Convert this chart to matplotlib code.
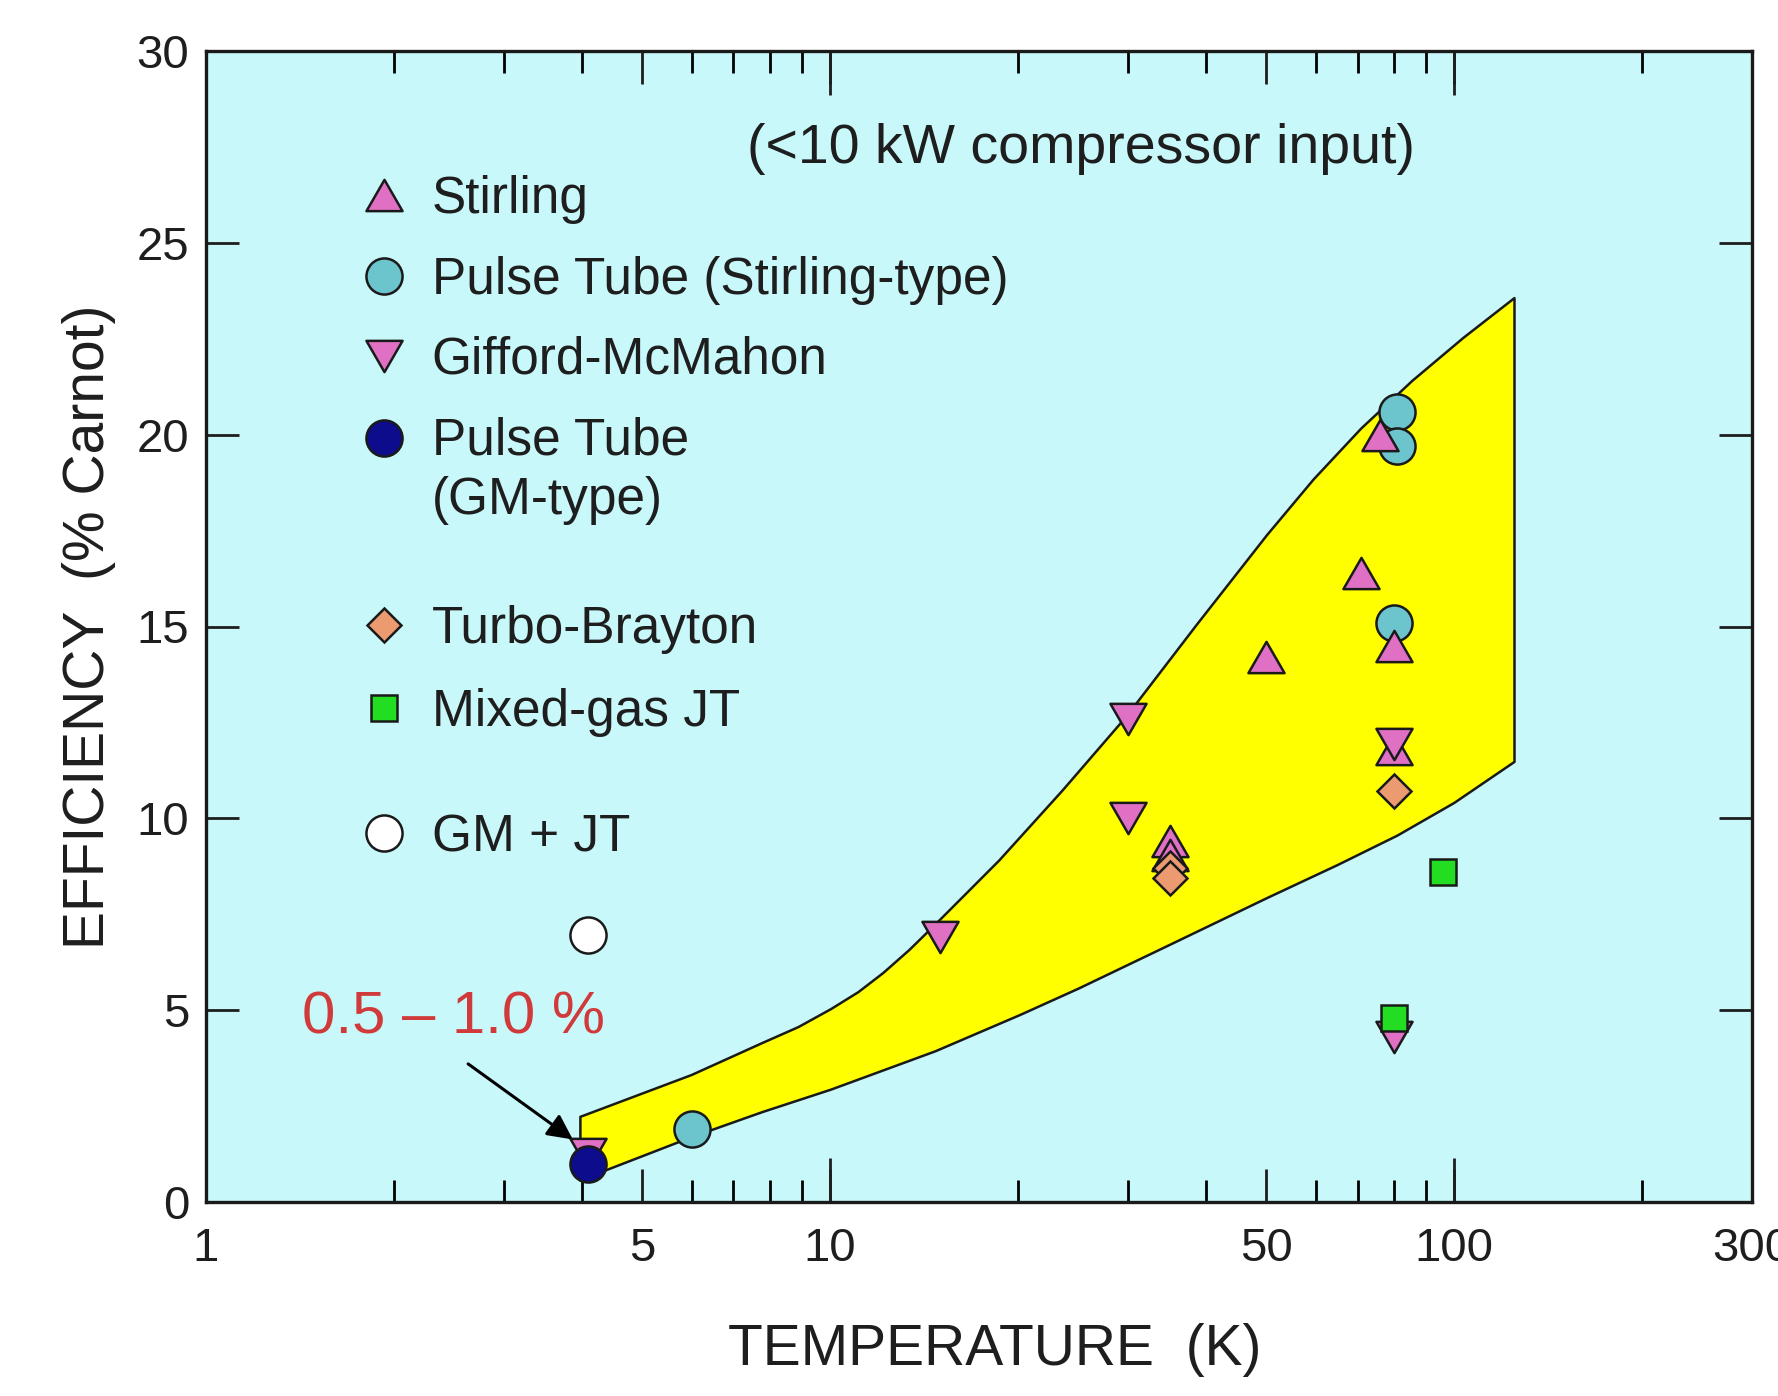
import numpy as np
import matplotlib
matplotlib.use('Agg')
import matplotlib.pyplot as plt
from matplotlib.lines import Line2D
from matplotlib.path import Path
from matplotlib.legend_handler import HandlerLine2D
from matplotlib.ticker import FixedLocator, FixedFormatter, NullFormatter, NullLocator

plt.rcParams['font.family'] = ['Liberation Sans', 'DejaVu Sans']

# ---------------- data ----------------
stirling_T = [76, 71, 50, 80, 80, 35, 35]
stirling_E = [20.0, 16.4, 14.2, 14.5, 11.8, 9.4, 9.05]

gm_T = [4.1, 15, 30, 30, 80, 80]
gm_E = [1.25, 6.9, 12.6, 10.0, 11.95, 4.3]

pt_stirling_T = [81, 81, 80, 6.0]
pt_stirling_E = [20.6, 19.7, 15.1, 1.9]

pt_gm_T = [4.1]
pt_gm_E = [1.0]

turbo_T = [80, 35, 35]
turbo_E = [10.7, 8.7, 8.45]

mixed_T = [96, 80]
mixed_E = [8.6, 4.8]

gmjt_T = [4.1]
gmjt_E = [6.95]

band_upper_T = [3.98, 6.0, 7.78, 8.9, 10.04, 11.1, 12.17, 13.4, 14.76, 18.66, 23.59,
                29.83, 38.66, 50.12, 59.51, 70.96, 85.65, 103.4, 124.9]
band_upper_E = [2.22, 3.31, 4.14, 4.56, 5.03, 5.47, 5.97, 6.57, 7.24, 8.90, 10.73,
                12.65, 15.04, 17.38, 18.83, 20.16, 21.40, 22.52, 23.56]
band_lower_T = [3.98, 4.38, 6.0, 7.78, 10.04, 14.76, 20.2, 25.0, 34.8, 50.12,
                65.0, 81.1, 100.0, 124.9]
band_lower_E = [0.56, 0.83, 1.69, 2.34, 2.93, 3.93, 4.88, 5.56, 6.68, 7.92,
                8.78, 9.55, 10.40, 11.47]

x_ticks = [1, 5, 10, 50, 100, 300]
x_ticklabels = ['1', '5', '10', '50', '100', '300']
x_minor = [2, 3, 4, 6, 7, 8, 9, 20, 30, 40, 60, 70, 80, 90, 200]
x_long = [10, 100]
y_ticks = [0, 5, 10, 15, 20, 25, 30]

legend_labels_a = ['Stirling', 'Pulse Tube (Stirling-type)', 'Gifford-McMahon',
                   'Pulse Tube\n(GM-type)']
legend_labels_b = ['Turbo-Brayton', 'Mixed-gas JT']
legend_labels_c = ['GM + JT']

# ---------------- style ----------------
BG = '#c8f8fa'
YELLOW = '#ffff00'
PINK = '#e070c4'
TEAL = '#6cc4cc'
NAVY = '#0c0c8c'
ORANGE = '#ec9a70'
GREEN = '#22dd22'
EDGE = '#1a1a1a'
TXT = '#1e1e1e'
RED = '#d03a3a'

tri_up = Path([(0, 0.433), (-0.5, -0.433), (0.5, -0.433), (0, 0.433)],
              [Path.MOVETO, Path.LINETO, Path.LINETO, Path.CLOSEPOLY])
tri_down = Path([(0, -0.433), (-0.5, 0.433), (0.5, 0.433), (0, -0.433)],
                [Path.MOVETO, Path.LINETO, Path.LINETO, Path.CLOSEPOLY])

MEW = 1.8
MS_TRI = 26
MS_CIR = 26
MS_SQ = 18.5
MS_DIA = 17.5

fig = plt.figure(figsize=(17.78, 13.96), dpi=100)
fig.patch.set_facecolor('white')
ax = fig.add_axes([206 / 1778, 1 - 1202 / 1396, (1752 - 206) / 1778, (1202 - 51) / 1396])
ax.set_facecolor(BG)
ax.set_xscale('log')
ax.set_xlim(1, 300)
ax.set_ylim(0, 30)

# band
poly_T = list(band_upper_T) + list(band_lower_T[::-1])
poly_E = list(band_upper_E) + list(band_lower_E[::-1])
ax.fill(poly_T, poly_E, facecolor=YELLOW, edgecolor=EDGE, linewidth=1.8,
        joinstyle='round', zorder=1)

def pts(T, E, marker, face, ms, z):
    ax.plot(T, E, linestyle='none', marker=marker, markersize=ms,
            markerfacecolor=face, markeredgecolor=EDGE, markeredgewidth=MEW, zorder=z)

pts(pt_stirling_T, pt_stirling_E, 'o', TEAL, MS_CIR, 3)
pts(stirling_T, stirling_E, tri_up, PINK, MS_TRI, 4)
pts(gm_T, gm_E, tri_down, PINK, MS_TRI, 5)
pts(turbo_T, turbo_E, 'D', ORANGE, MS_DIA, 6)
pts(mixed_T, mixed_E, 's', GREEN, MS_SQ, 6)
pts(pt_gm_T, pt_gm_E, 'o', NAVY, MS_CIR, 7)
pts(gmjt_T, gmjt_E, 'o', 'white', MS_CIR, 7)

# annotations
ax.text(25.2, 27.45, '(<10 kW compressor input)', fontsize=40, color=TXT,
        ha='center', va='center', zorder=8)
ax.text(2.49, 4.8, '0.5 \u2013 1.0 %', fontsize=43, color=RED,
        ha='center', va='center', zorder=8)
ax.annotate('', xy=(3.87, 1.63), xytext=(2.63, 3.6),
            arrowprops=dict(arrowstyle='-|>', color='black', lw=2.2,
                            mutation_scale=38, shrinkA=0, shrinkB=0), zorder=8)

# ticks
ax.xaxis.set_major_locator(FixedLocator(x_ticks))
ax.xaxis.set_major_formatter(FixedFormatter(x_ticklabels))
ax.xaxis.set_minor_locator(FixedLocator(x_minor))
ax.xaxis.set_minor_formatter(NullFormatter())
ax.tick_params(axis='x', which='major', direction='in', length=24, width=2,
               top=True, bottom=True, labelsize=34, pad=18, colors=TXT)
ax.tick_params(axis='x', which='minor', direction='in', length=16, width=2,
               top=True, bottom=True)
ax.set_yticks(y_ticks)
ax.tick_params(axis='y', which='major', direction='in', length=24, width=2,
               left=True, right=True, labelsize=34, pad=12, colors=TXT)
for sp in ax.spines.values():
    sp.set_linewidth(2.4)
    sp.set_color(EDGE)

for loc in ['bottom', 'top']:
    sec = ax.secondary_xaxis(loc)
    sec.set_xticks(x_long)
    sec.xaxis.set_minor_locator(NullLocator())
    sec.tick_params(axis='x', which='major', direction='in', length=32, width=2,
                    labelbottom=False, labeltop=False, colors=TXT)
    sec.spines[loc].set_visible(False)

ax.set_xlabel('TEMPERATURE  (K)', fontsize=41, color=TXT)
ax.xaxis.set_label_coords(0.51, -0.105)
ax.set_ylabel('EFFICIENCY  (% Carnot)', fontsize=41, color=TXT)
ax.yaxis.set_label_coords(-0.058, 0.5)

# legends
class HandlerFirstLine(HandlerLine2D):
    def __init__(self, shift_pts, **kw):
        super().__init__(**kw)
        self.shift_pts = shift_pts

    def create_artists(self, legend, orig_handle, xdescent, ydescent, width,
                       height, fontsize, trans):
        arts = super().create_artists(legend, orig_handle, xdescent, ydescent,
                                      width, height, fontsize, trans)
        for a in arts:
            a.set_ydata(np.asarray(a.get_ydata(), float) + self.shift_pts)
        return arts

def proxy(marker, face, ms):
    return Line2D([], [], linestyle='none', marker=marker, markersize=ms,
                  markerfacecolor=face, markeredgecolor=EDGE, markeredgewidth=MEW)

LEG_KW = dict(frameon=False, handlelength=1.0, handletextpad=0.42, borderpad=0,
              borderaxespad=0, fontsize=37, loc='center left', labelcolor=TXT)
LEG_X = 0.0988

h_a = [proxy(tri_up, PINK, MS_TRI), proxy('o', TEAL, MS_CIR),
       proxy(tri_down, PINK, MS_TRI), proxy('o', NAVY, MS_CIR)]
leg_a = ax.legend(h_a, legend_labels_a, bbox_to_anchor=(LEG_X, 0.740),
                  labelspacing=0.61,
                  handler_map={h_a[3]: HandlerFirstLine(24.0)}, **LEG_KW)
leg_a.get_texts()[3].set_linespacing(1.29)
leg_a.set_zorder(9)
ax.add_artist(leg_a)

h_b = [proxy('D', ORANGE, MS_DIA), proxy('s', GREEN, MS_SQ)]
leg_b = ax.legend(h_b, legend_labels_b, bbox_to_anchor=(LEG_X, 0.4616),
                  labelspacing=0.654, **LEG_KW)
leg_b.set_zorder(9)
ax.add_artist(leg_b)

h_c = [proxy('o', 'white', MS_CIR)]
leg_c = ax.legend(h_c, legend_labels_c, bbox_to_anchor=(LEG_X, 0.3163),
                  labelspacing=0.654, **LEG_KW)
leg_c.set_zorder(9)

fig.savefig('out.png', dpi=100, facecolor='white')
